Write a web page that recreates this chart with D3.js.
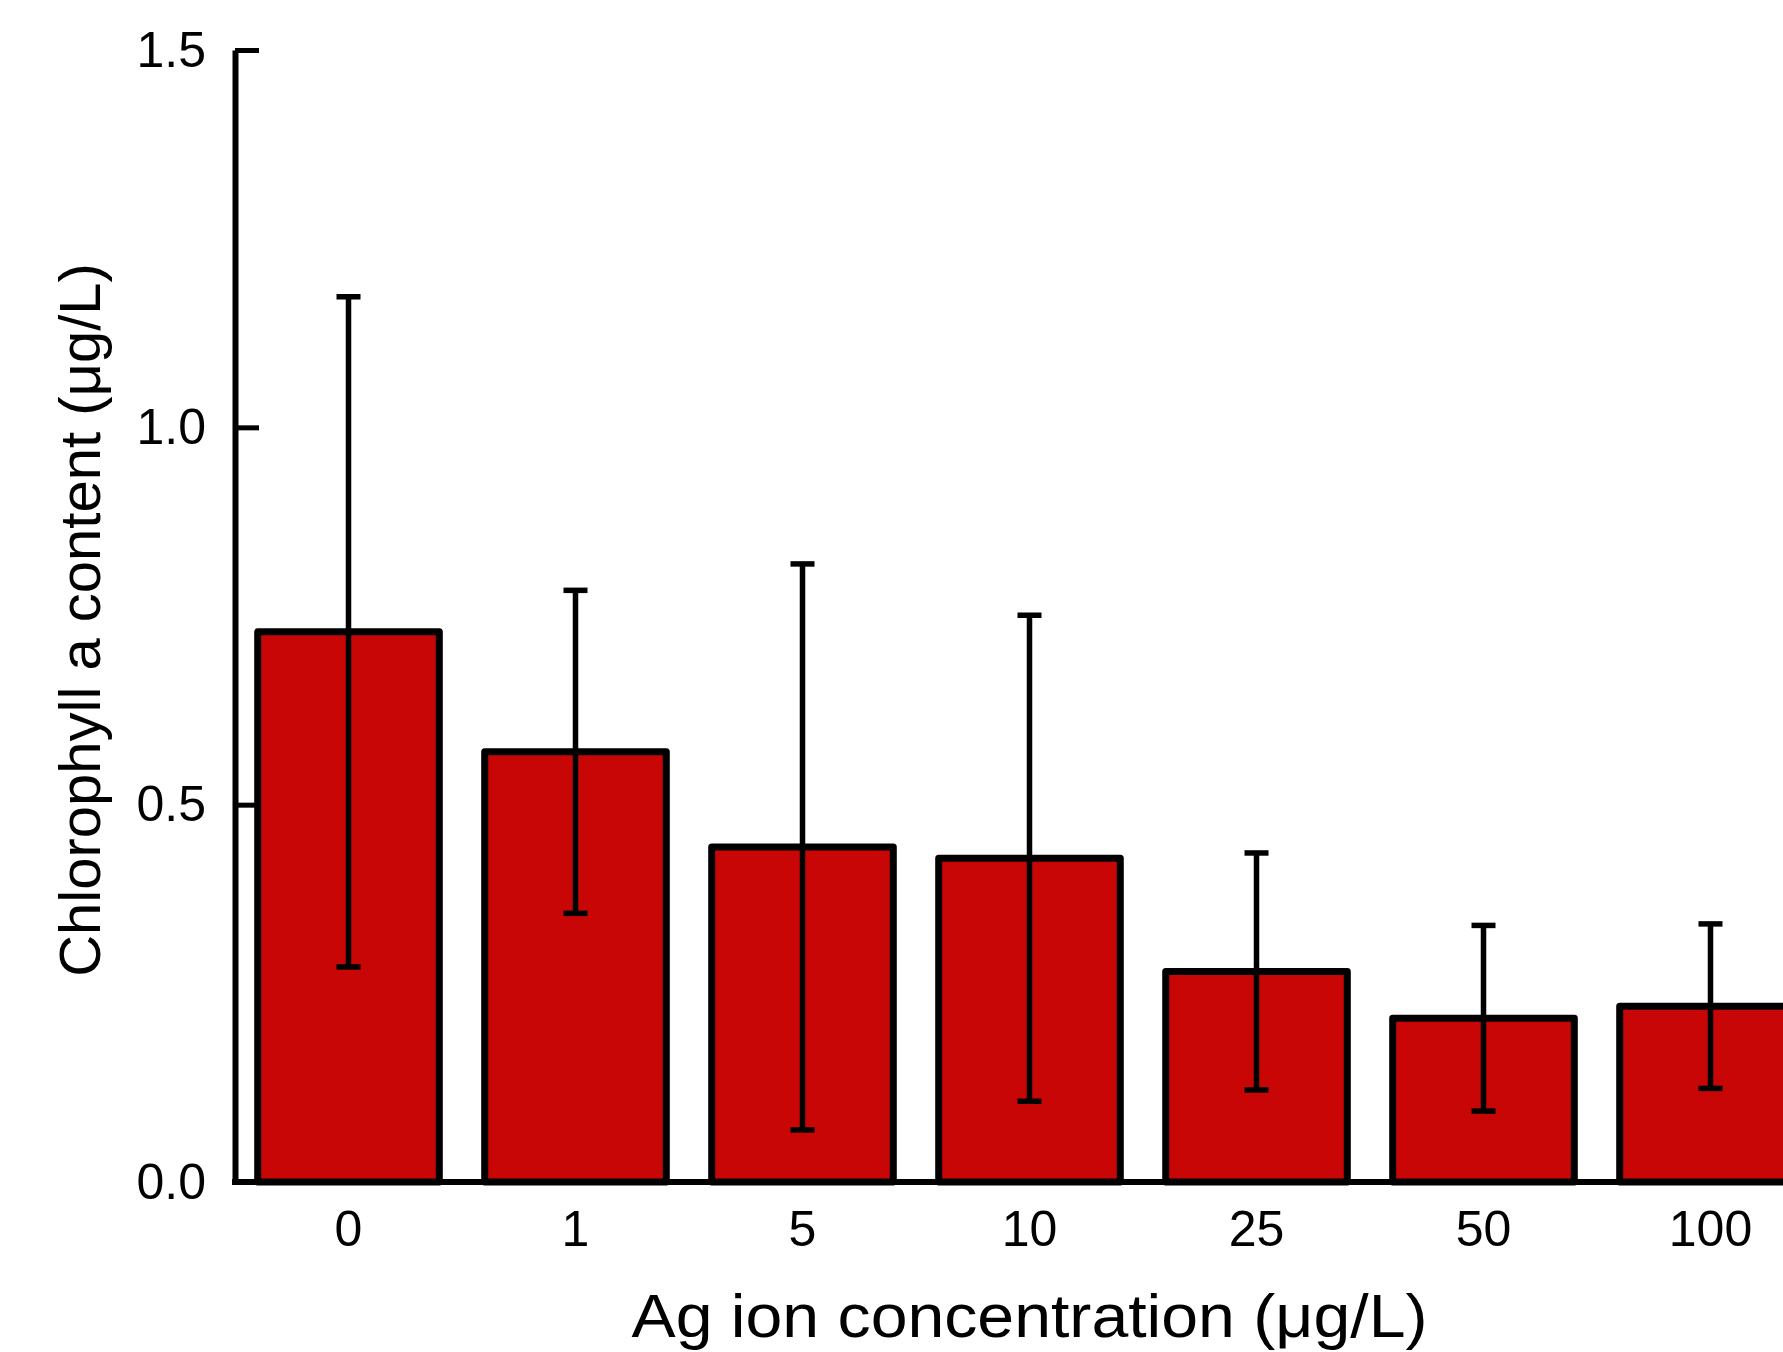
<!DOCTYPE html>
<html lang="en">

<head>
    <script src="https://d3js.org/d3.v7.min.js"></script>
    <meta charset="utf-8" />
    <style>
        body { margin: 0; background: #fff; }
        text { font-family: "Liberation Sans", Arial, sans-serif; fill: #000; }
    </style>
</head>

<body>
    <script>

        const w = 1783;
        const h = 1352;

        // data
        const concentrations = ["0", "1", "5", "10", "25", "50", "100"];
        const means = [0.729, 0.570, 0.444, 0.429, 0.279, 0.217, 0.233];
        const errors = [0.444, 0.214, 0.375, 0.322, 0.157, 0.123, 0.109];
        const yTicks = [0, 0.5, 1.0, 1.5];

        const axisX = 235;
        const plotTop = 50;
        const plotBottom = 1182;

        const xScale = d3.scaleBand()
            .domain(concentrations)
            .range([axisX, axisX + 7 * 227])
            .paddingInner(0.2)
            .paddingOuter(0.1);

        const yScale = d3.scaleLinear()
            .domain([0, 1.5])
            .range([plotBottom, plotTop]);

        const svg = d3.select("body")
            .append("svg")
            .attr("width", w)
            .attr("height", h);

        // bars
        svg.selectAll("rect.bar")
            .data(means)
            .enter()
            .append("rect")
            .attr("class", "bar")
            .attr("x", (d, i) => xScale(concentrations[i]))
            .attr("y", d => yScale(d))
            .attr("width", xScale.bandwidth())
            .attr("height", d => plotBottom - yScale(d))
            .attr("fill", "#c80606")
            .attr("stroke", "#000")
            .attr("stroke-width", 7)
            .attr("stroke-linejoin", "round");

        // error bars
        const errG = svg.append("g")
            .attr("stroke", "#000")
            .attr("stroke-width", 5.5);

        means.forEach((m, i) => {
            const cx = xScale(concentrations[i]) + xScale.bandwidth() / 2;
            const hi = yScale(m + errors[i]);
            const lo = yScale(m - errors[i]);
            errG.append("line").attr("x1", cx).attr("x2", cx).attr("y1", hi).attr("y2", lo);
            errG.append("line").attr("x1", cx - 12).attr("x2", cx + 12).attr("y1", hi).attr("y2", hi);
            errG.append("line").attr("x1", cx - 12).attr("x2", cx + 12).attr("y1", lo).attr("y2", lo);
        });

        // x axis
        const xAxis = d3.axisBottom(xScale)
            .tickSize(0)
            .tickPadding(28);

        const gx = svg.append("g")
            .attr("transform", "translate(0," + plotBottom + ")")
            .call(xAxis);
        gx.select(".domain").remove();
        gx.selectAll("text")
            .style("font-size", "50px")
            .attr("dy", "0.71em");

        svg.append("line")
            .attr("x1", axisX - 3)
            .attr("x2", w)
            .attr("y1", plotBottom)
            .attr("y2", plotBottom)
            .attr("stroke", "#000")
            .attr("stroke-width", 6);

        // y axis
        const yAxis = d3.axisLeft(yScale)
            .tickValues(yTicks)
            .tickFormat(d3.format(".1f"))
            .tickSizeInner(-24)
            .tickSizeOuter(0)
            .tickPadding(29);

        const gy = svg.append("g")
            .attr("transform", "translate(" + axisX + ",0)")
            .call(yAxis);
        gy.select(".domain")
            .attr("stroke-width", 6);
        gy.selectAll(".tick line")
            .attr("stroke-width", 5);
        gy.selectAll("text")
            .style("font-size", "50px");

        // axis titles
        svg.append("text")
            .attr("x", (axisX + axisX + 7 * 227) / 2)
            .attr("y", 1337)
            .attr("text-anchor", "middle")
            .attr("textLength", 796)
            .attr("lengthAdjust", "spacingAndGlyphs")
            .style("font-size", "62px")
            .text("Ag ion concentration (\u03BCg/L)");

        svg.append("text")
            .attr("transform", "translate(100," + ((plotTop + plotBottom) / 2 + 4) + ") rotate(-90)")
            .attr("text-anchor", "middle")
            .style("font-size", "58px")
            .text("Chlorophyll a content (\u03BCg/L)");

    </script>
</body>

</html>
